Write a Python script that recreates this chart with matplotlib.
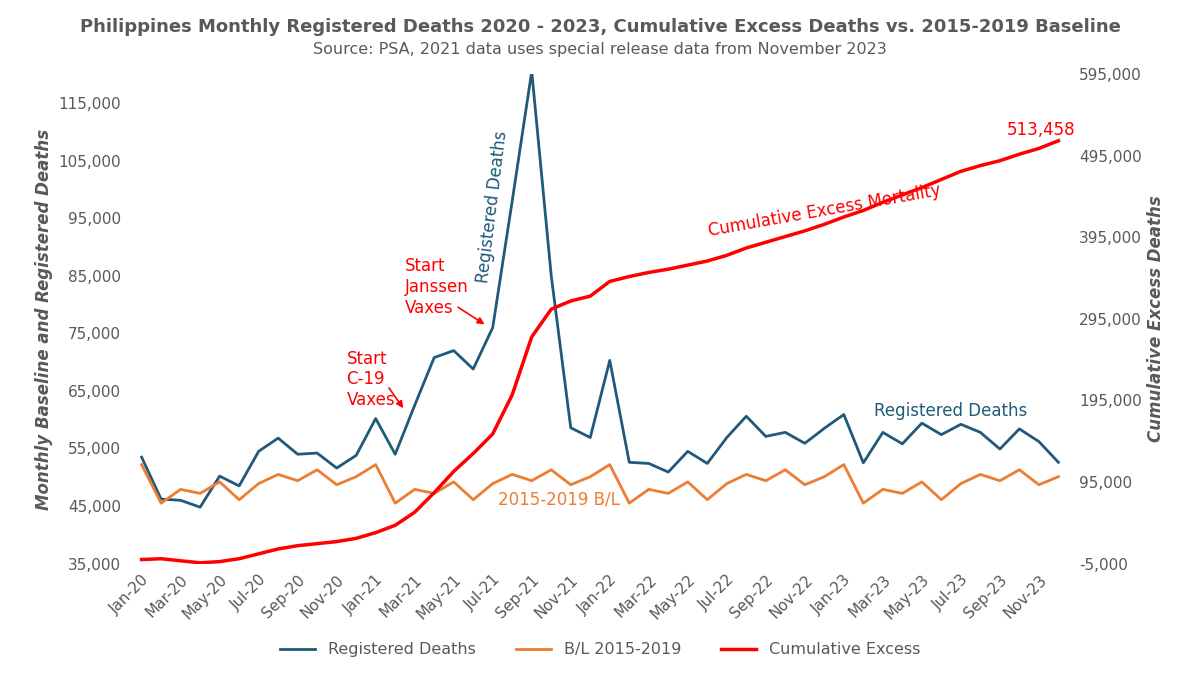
import matplotlib.pyplot as plt
import matplotlib.ticker as mtick
import pandas as pd

plt.rcParams['font.family'] = ['DejaVu Sans']
plt.rcParams['axes.unicode_minus'] = False

months = pd.date_range('2020-01-01', '2023-12-01', freq='MS')
month_labels = [d.strftime('%b-%y') for d in months]

registered = [53.5, 46.2, 46.0, 44.8, 50.2, 48.5, 54.5, 56.8, 54.0, 54.2, 51.6, 53.8,
              60.2, 54.0, 62.5, 70.8, 72.0, 68.8, 76.0, 98.0, 120.5, 85.0, 58.6, 56.9,
              70.3, 52.6, 52.4, 50.9, 54.5, 52.4, 56.9, 60.6, 57.1, 57.8, 55.9, 58.5,
              60.9, 52.5, 57.8, 55.8, 59.4, 57.4, 59.2, 57.8, 54.9, 58.4, 56.2, 52.6]
registered = [v * 1000 for v in registered]

baseline_year = [52.2, 45.5, 47.9, 47.2, 49.2, 46.1, 48.9, 50.5, 49.4, 51.3, 48.7, 50.1]
baseline = [v * 1000 for v in baseline_year * 4]

cumulative = [0, 1, -1.5, -4, -2.5, 1, 7, 13, 17, 19.5, 22, 26,
              33, 42, 58, 82, 108, 130, 154, 202, 273, 307, 317, 323,
              341, 347, 352, 356, 361, 366, 373, 382, 389, 396, 403, 411,
              420, 428, 438, 447, 456, 466, 476, 483, 489, 497, 504, 513.458]
cumulative = [v * 1000 for v in cumulative]

BLUE = '#1f5a7a'
ORANGE = '#ed7d31'
RED = '#ff0000'
GRAY = '#595959'

fig, ax = plt.subplots(figsize=(12, 6.75), dpi=100)
fig.subplots_adjust(left=0.105, right=0.895, top=0.89, bottom=0.165)
ax2 = ax.twinx()

x = list(range(len(months)))
l1, = ax.plot(x, registered, color=BLUE, lw=2, label='Registered Deaths')
l2, = ax.plot(x, baseline, color=ORANGE, lw=2, label='B/L 2015-2019')
l3, = ax2.plot(x, cumulative, color=RED, lw=2.5, label='Cumulative Excess')

ax.set_ylim(35000, 120000)
ax.set_yticks(range(35000, 120000, 10000))
ax2.set_ylim(-5000, 595000)
ax2.set_yticks(range(-5000, 600000, 100000))
ax.yaxis.set_major_formatter(mtick.StrMethodFormatter('{x:,.0f}'))
ax2.yaxis.set_major_formatter(mtick.StrMethodFormatter('{x:,.0f}'))
ax.set_xlim(-0.8, len(x) - 0.2)
ax.set_xticks(x[::2])
ax.set_xticklabels(month_labels[::2], rotation=45, ha='right', rotation_mode='anchor')

for a in (ax, ax2):
    for s in a.spines.values():
        s.set_visible(False)
    a.tick_params(length=0, labelsize=11, colors=GRAY)
ax.tick_params(axis='x', pad=6)

ax.set_ylabel('Monthly Baseline and Registered Deaths', fontsize=12, style='italic',
              fontweight='bold', color=GRAY)
ax2.set_ylabel('Cumulative Excess Deaths', fontsize=12, style='italic',
               fontweight='bold', color=GRAY)

fig.text(0.5, 0.952, 'Philippines Monthly Registered Deaths 2020 - 2023, Cumulative Excess Deaths vs. 2015-2019 Baseline',
         ha='center', fontsize=13, fontweight='bold', color=GRAY)
fig.text(0.5, 0.92, 'Source: PSA, 2021 data uses special release data from November 2023',
         ha='center', fontsize=11.5, color=GRAY)

# annotations
ax.text(18.0, 97000, 'Registered Deaths', rotation=83, color=BLUE, fontsize=12,
        ha='center', va='center')
ax.text(41.5, 61500, 'Registered Deaths', color=BLUE, fontsize=12, ha='center', va='center')
ax.text(21.4, 46200, '2015-2019 B/L', color=ORANGE, fontsize=12, ha='center', va='center')
ax2.text(35.0, 428000, 'Cumulative Excess Mortality', rotation=10, color=RED,
         fontsize=12, ha='center', va='center')
ax2.text(46.1, 527000, '513,458', color=RED, fontsize=12, ha='center', va='center')
ax.text(10.5, 67000, 'Start\nC-19\nVaxes', color=RED, fontsize=12, ha='left', va='center')
ax.annotate('', xy=(13.5, 61600), xytext=(12.6, 65900),
            arrowprops=dict(arrowstyle='-|>', color=RED, lw=1.2))
ax.text(13.5, 83000, 'Start\nJanssen\nVaxes', color=RED, fontsize=12, ha='left', va='center')
ax.annotate('', xy=(17.7, 76300), xytext=(16.1, 79800),
            arrowprops=dict(arrowstyle='-|>', color=RED, lw=1.2))

fig.legend(handles=[l1, l2, l3], loc='lower center', ncol=3, frameon=False,
           fontsize=11.5, bbox_to_anchor=(0.5, 0.005), handlelength=2.2, columnspacing=2.5,
           labelcolor=GRAY)

fig.savefig('out.png')
